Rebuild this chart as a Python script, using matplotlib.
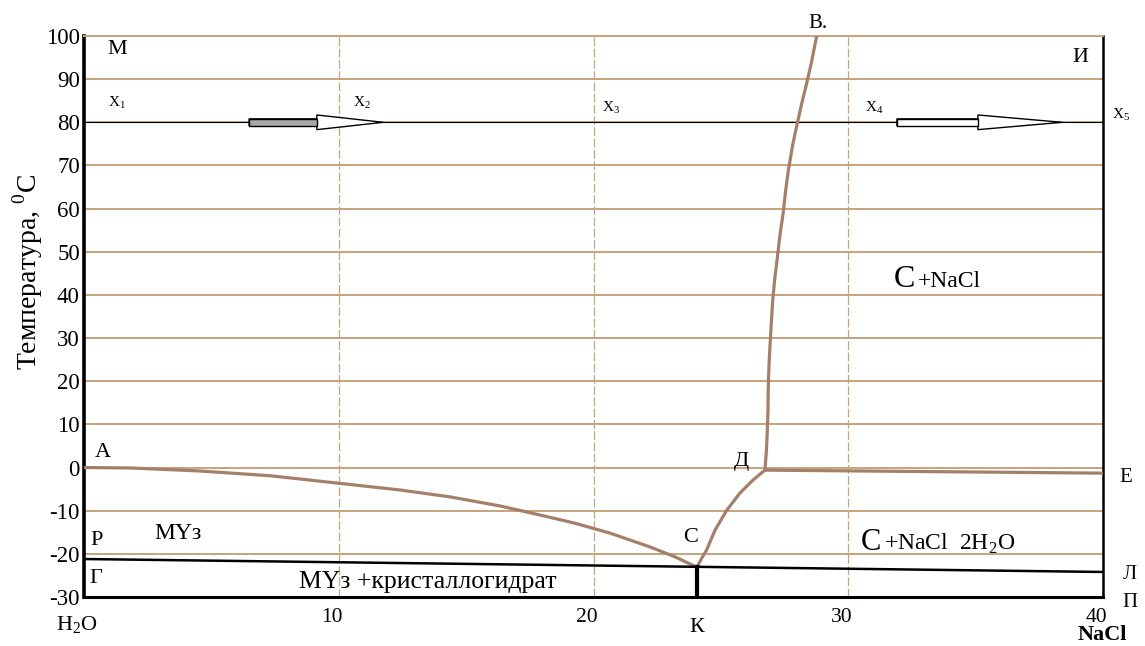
import matplotlib
matplotlib.use("Agg")
import matplotlib.pyplot as plt
from matplotlib.patches import FancyArrow, Rectangle
from matplotlib.transforms import ScaledTranslation

plt.rcParams['font.family'] = ['Liberation Serif', 'DejaVu Serif']
plt.rcParams['mathtext.fontset'] = 'custom'
plt.rcParams['mathtext.rm'] = 'Liberation Serif'
plt.rcParams['axes.unicode_minus'] = False

# ---- data ----
x_ticks = [10, 20, 30, 40]
y_ticks = [-30, -20, -10, 0, 10, 20, 30, 40, 50, 60, 70, 80, 90, 100]

# ice liquidus A -> C
ice_x = [0, 1.81, 4.55, 7.30, 10.25, 12.40, 14.37, 16.33, 17.90, 19.27, 20.65, 22.22, 23.20, 24.06]
ice_y = [0, -0.1, -0.8, -1.9, -3.8, -5.2, -6.8, -8.9, -11.0, -12.9, -15.2, -18.4, -20.7, -23.1]
# hydrate liquidus C -> D
hyd_x = [24.06, 24.25, 24.44, 24.77, 25.23, 25.75, 26.26, 26.73]
hyd_y = [-23.1, -21.0, -19.1, -14.5, -9.9, -5.9, -2.9, -0.6]
# salt solubility D -> B
salt_x = [26.73, 26.79, 26.82, 26.85, 26.86, 26.89, 26.93, 26.98, 27.03, 27.11, 27.22,
          27.32, 27.45, 27.54, 27.65, 27.81, 28.0, 28.18, 28.37, 28.56, 28.76]
salt_y = [-0.6, 4.1, 8.0, 13.3, 18.4, 23.8, 28.4, 33.5, 38.4, 43.5, 48.8,
          53.9, 59.2, 64.1, 68.9, 74.5, 79.8, 84.5, 89.1, 94.0, 100]
# peritectic line D -> E
per_x = [26.73, 40]
per_y = [-0.6, -1.3]
# eutectic line G -> L
eut_x = [0, 40]
eut_y = [-21.2, -24.2]
# eutectic composition K
k_x = [24.06, 24.06]
k_y = [-23.1, -30]
# isotherm X1..X5
iso_t = 80
arrow1 = (6.48, 11.74)
arrow2 = (31.91, 38.39)

brown = '#a4806a'
tan = '#c6a47c'

fig = plt.figure(figsize=(11.45, 6.46), dpi=100)
ax = fig.add_axes([84/1145, 1-597/646, 1019/1145, 561/646])
ax.set_xlim(0, 40)
ax.set_ylim(-30, 100)

ax.set_xticks(x_ticks)
ax.set_yticks(y_ticks)
ax.tick_params(length=0, labelsize=16.5, pad=3)
ax.tick_params(axis='x', labelsize=15.5, pad=8)
for lab in ax.get_xticklabels():
    lab.set_transform(lab.get_transform() + ScaledTranslation(-7/100, 0, fig.dpi_scale_trans))

ax.grid(axis='y', color=tan, lw=1.4)
ax.grid(axis='x', color=tan, lw=0.9, ls=(0, (7, 2)))
ax.set_axisbelow(True)

ax.spines['left'].set_linewidth(2.6)
ax.spines['left'].set_color('black')
ax.spines['right'].set_linewidth(1.8)
ax.spines['bottom'].set_linewidth(2.2)
ax.spines['top'].set_color(tan)
ax.spines['top'].set_linewidth(1.4)

# isotherm
ax.plot([0, 40], [iso_t, iso_t], color='black', lw=0.8, zorder=3)

# curves
kw = dict(color=brown, lw=2.3, solid_capstyle='round', solid_joinstyle='round', zorder=4)
ax.plot(ice_x, ice_y, **kw)
ax.plot(hyd_x, hyd_y, **kw)
ax.plot(salt_x, salt_y, **kw)
ax.plot(per_x, per_y, **kw)
ax.plot(eut_x, eut_y, color='black', lw=1.8, zorder=4)
ax.plot(k_x, k_y, color='black', lw=3, zorder=5)

# arrows
for (a0, a1), shaft_fc in [(arrow1, '#a8a8a8'), (arrow2, 'white')]:
    hl = 2.6 if a0 < 20 else 3.3
    arr = FancyArrow(a0, iso_t, a1 - a0, 0, width=1.6, head_width=3.4, head_length=hl,
                     length_includes_head=True, fc='white', ec='black', lw=1.0, zorder=6)
    ax.add_patch(arr)
    ax.add_patch(Rectangle((a0, iso_t - 0.8), a1 - a0 - hl, 1.6, fc=shaft_fc, ec='black', lw=1.0, zorder=7))

# labels
fig.text(28/1145, 1-272/646, r'Температура, $^{\mathregular{0}}$С', rotation=90,
         ha='center', va='center', fontsize=20)

def t(x, y, s, size=14, **k):
    ax.text(x, y, s, fontsize=size, ha=k.pop('ha', 'center'), va=k.pop('va', 'center'),
            clip_on=False, zorder=8, **k)

t(1.3, 96.8, 'М', 16)
t(39.1, 95.1, 'И', 16)
t(28.8, 102.8, 'В.', 15)
for xx, yy, sub in [(1.3, 84.5, '1'), (10.9, 84.5, '2'), (20.7, 83.5, '3'), (31.0, 83.5, '4'), (40.7, 81.7, '5')]:
    t(xx, yy, 'X$_{\\mathregular{' + sub + '}}$', 11)
t(0.75, 3.6, 'А', 16)
t(25.8, 1.3, 'Д', 16)
t(40.9, -2.4, 'Е', 15)
t(0.5, -16.8, 'Р', 16)
t(3.7, -15.2, 'МҮз', 17)
t(23.8, -16.1, 'С', 16)
t(0.47, -25.6, 'Г', 16)
t(13.5, -26.5, 'МҮз +кристаллогидрат', 18.5)
t(41.06, -24.9, 'Л', 15)
t(41.06, -31.2, 'П', 15)
t(-0.27, -36.5, 'H$_{\\mathregular{2}}$O', 16)
t(24.06, -37.0, 'К', 16)
t(39.96, -38.8, 'NaCl', 16, fontweight='bold')

t(32.2, 41.8, 'С', 23, va='baseline')
t(32.75, 41.8, '+NaCl', 17, va='baseline', ha='left')
t(30.9, -19.1, 'С', 22, va='baseline')
t(31.4, -19.1, '+NaCl  2H$_{\\mathregular{2}}$O', 17, va='baseline', ha='left')

fig.savefig('out.png', dpi=100)
